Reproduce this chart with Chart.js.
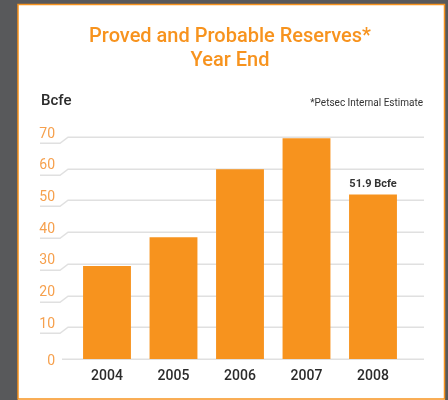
<!DOCTYPE html>
<html><head><meta charset="utf-8">
<script src="https://cdn.jsdelivr.net/npm/chart.js@4.4.0/dist/chart.umd.min.js"></script>
<style>
html,body{margin:0;padding:0;background:#58595B;width:448px;height:400px;overflow:hidden;}
canvas{position:absolute;left:0;top:0;}
</style>
</head><body>
<canvas id="c" width="448" height="400"></canvas>
<script>
const years = ['2004', '2005', '2006', '2007', '2008'];
const reserves = [29.3, 38.4, 59.8, 69.6, 51.9];
const valueLabels = ['', '', '', '', '51.9 Bcfe'];
const titleLines = ['Proved and Probable Reserves*', 'Year End'];
const unitLabel = 'Bcfe';
const noteText = '*Petsec Internal Estimate';
const yMin = 0, yMax = 70, yStep = 10;

const ORANGE = '#F7931E';
const FONT = 'Roboto, "Liberation Sans", sans-serif';

const decor = {
  id: 'decor',
  beforeDraw(chart) {
    const ctx = chart.ctx;
    ctx.save();
    ctx.fillStyle = '#58595B';
    ctx.fillRect(0, 0, 448, 400);
    ctx.fillStyle = '#FFFFFF';
    ctx.fillRect(18, 4, 427, 396);
    ctx.strokeStyle = ORANGE;
    ctx.lineWidth = 1.5;
    ctx.strokeRect(18, 4.5, 426.5, 394.5);
    ctx.restore();
  },
  beforeDatasetsDraw(chart) {
    const ctx = chart.ctx, y = chart.scales.y;
    ctx.save();
    ctx.strokeStyle = '#E0E0E0';
    ctx.lineWidth = 1.5;
    y.ticks.forEach(t => {
      const py = Math.round(y.getPixelForValue(t.value)) + 0.25;
      ctx.beginPath();
      if (t.value === 0) {
        ctx.moveTo(62, py); ctx.lineTo(424, py);
      } else {
        ctx.moveTo(40, py + 6); ctx.lineTo(60, py + 6);
        ctx.lineTo(68, py); ctx.lineTo(424, py);
      }
      ctx.stroke();
    });
    ctx.restore();
  },
  afterDatasetsDraw(chart) {
    const ctx = chart.ctx, y = chart.scales.y;
    ctx.save();
    // y tick labels
    ctx.fillStyle = '#F6A04D';
    ctx.font = '14px ' + FONT;
    ctx.textAlign = 'right';
    ctx.textBaseline = 'middle';
    y.ticks.forEach(t => {
      const py = y.getPixelForValue(t.value);
      ctx.fillText(String(t.value), 55, t.value === 0 ? py + 2 : py - 3);
    });
    // unit label
    ctx.fillStyle = '#2B2B2B';
    ctx.font = '500 15px ' + FONT;
    ctx.textAlign = 'left';
    ctx.fillText(unitLabel, 41, 101);
    // note
    ctx.fillStyle = '#333333';
    ctx.font = '10px ' + FONT;
    ctx.textAlign = 'right';
    ctx.fillText(noteText, 423, 103.5);
    // value labels
    const meta = chart.getDatasetMeta(0);
    ctx.font = 'bold 11px ' + FONT;
    ctx.textAlign = 'center';
    meta.data.forEach((bar, i) => {
      if (valueLabels[i]) ctx.fillText(valueLabels[i], bar.x, bar.y - 10);
    });
    ctx.restore();
  }
};

new Chart(document.getElementById('c'), {
  type: 'bar',
  data: {
    labels: years,
    datasets: [{
      data: reserves,
      backgroundColor: ORANGE,
      borderWidth: 0,
      barPercentage: 0.72,
      categoryPercentage: 1.0
    }]
  },
  options: {
    responsive: false,
    animation: false,
    devicePixelRatio: 1,
    layout: { padding: { left: 53.75, right: 41.75, top: 0, bottom: 0 } },
    plugins: {
      legend: { display: false },
      tooltip: { enabled: false },
      title: {
        display: true,
        text: titleLines,
        color: ORANGE,
        font: { family: FONT, size: 20, weight: '500', lineHeight: 1.2 },
        padding: { top: 25, bottom: 64 }
      }
    },
    scales: {
      y: {
        min: yMin, max: yMax,
        ticks: { stepSize: yStep, display: false },
        grid: { display: false },
        border: { display: false },
        afterFit(s) { s.width = 20; }
      },
      x: {
        grid: { display: false },
        border: { display: false },
        ticks: { color: '#2B2B2B', padding: 1, font: { family: FONT, size: 14, weight: '500' } },
        afterFit(s) { s.height = 41; }
      }
    }
  },
  plugins: [decor]
});
</script>
</body></html>
